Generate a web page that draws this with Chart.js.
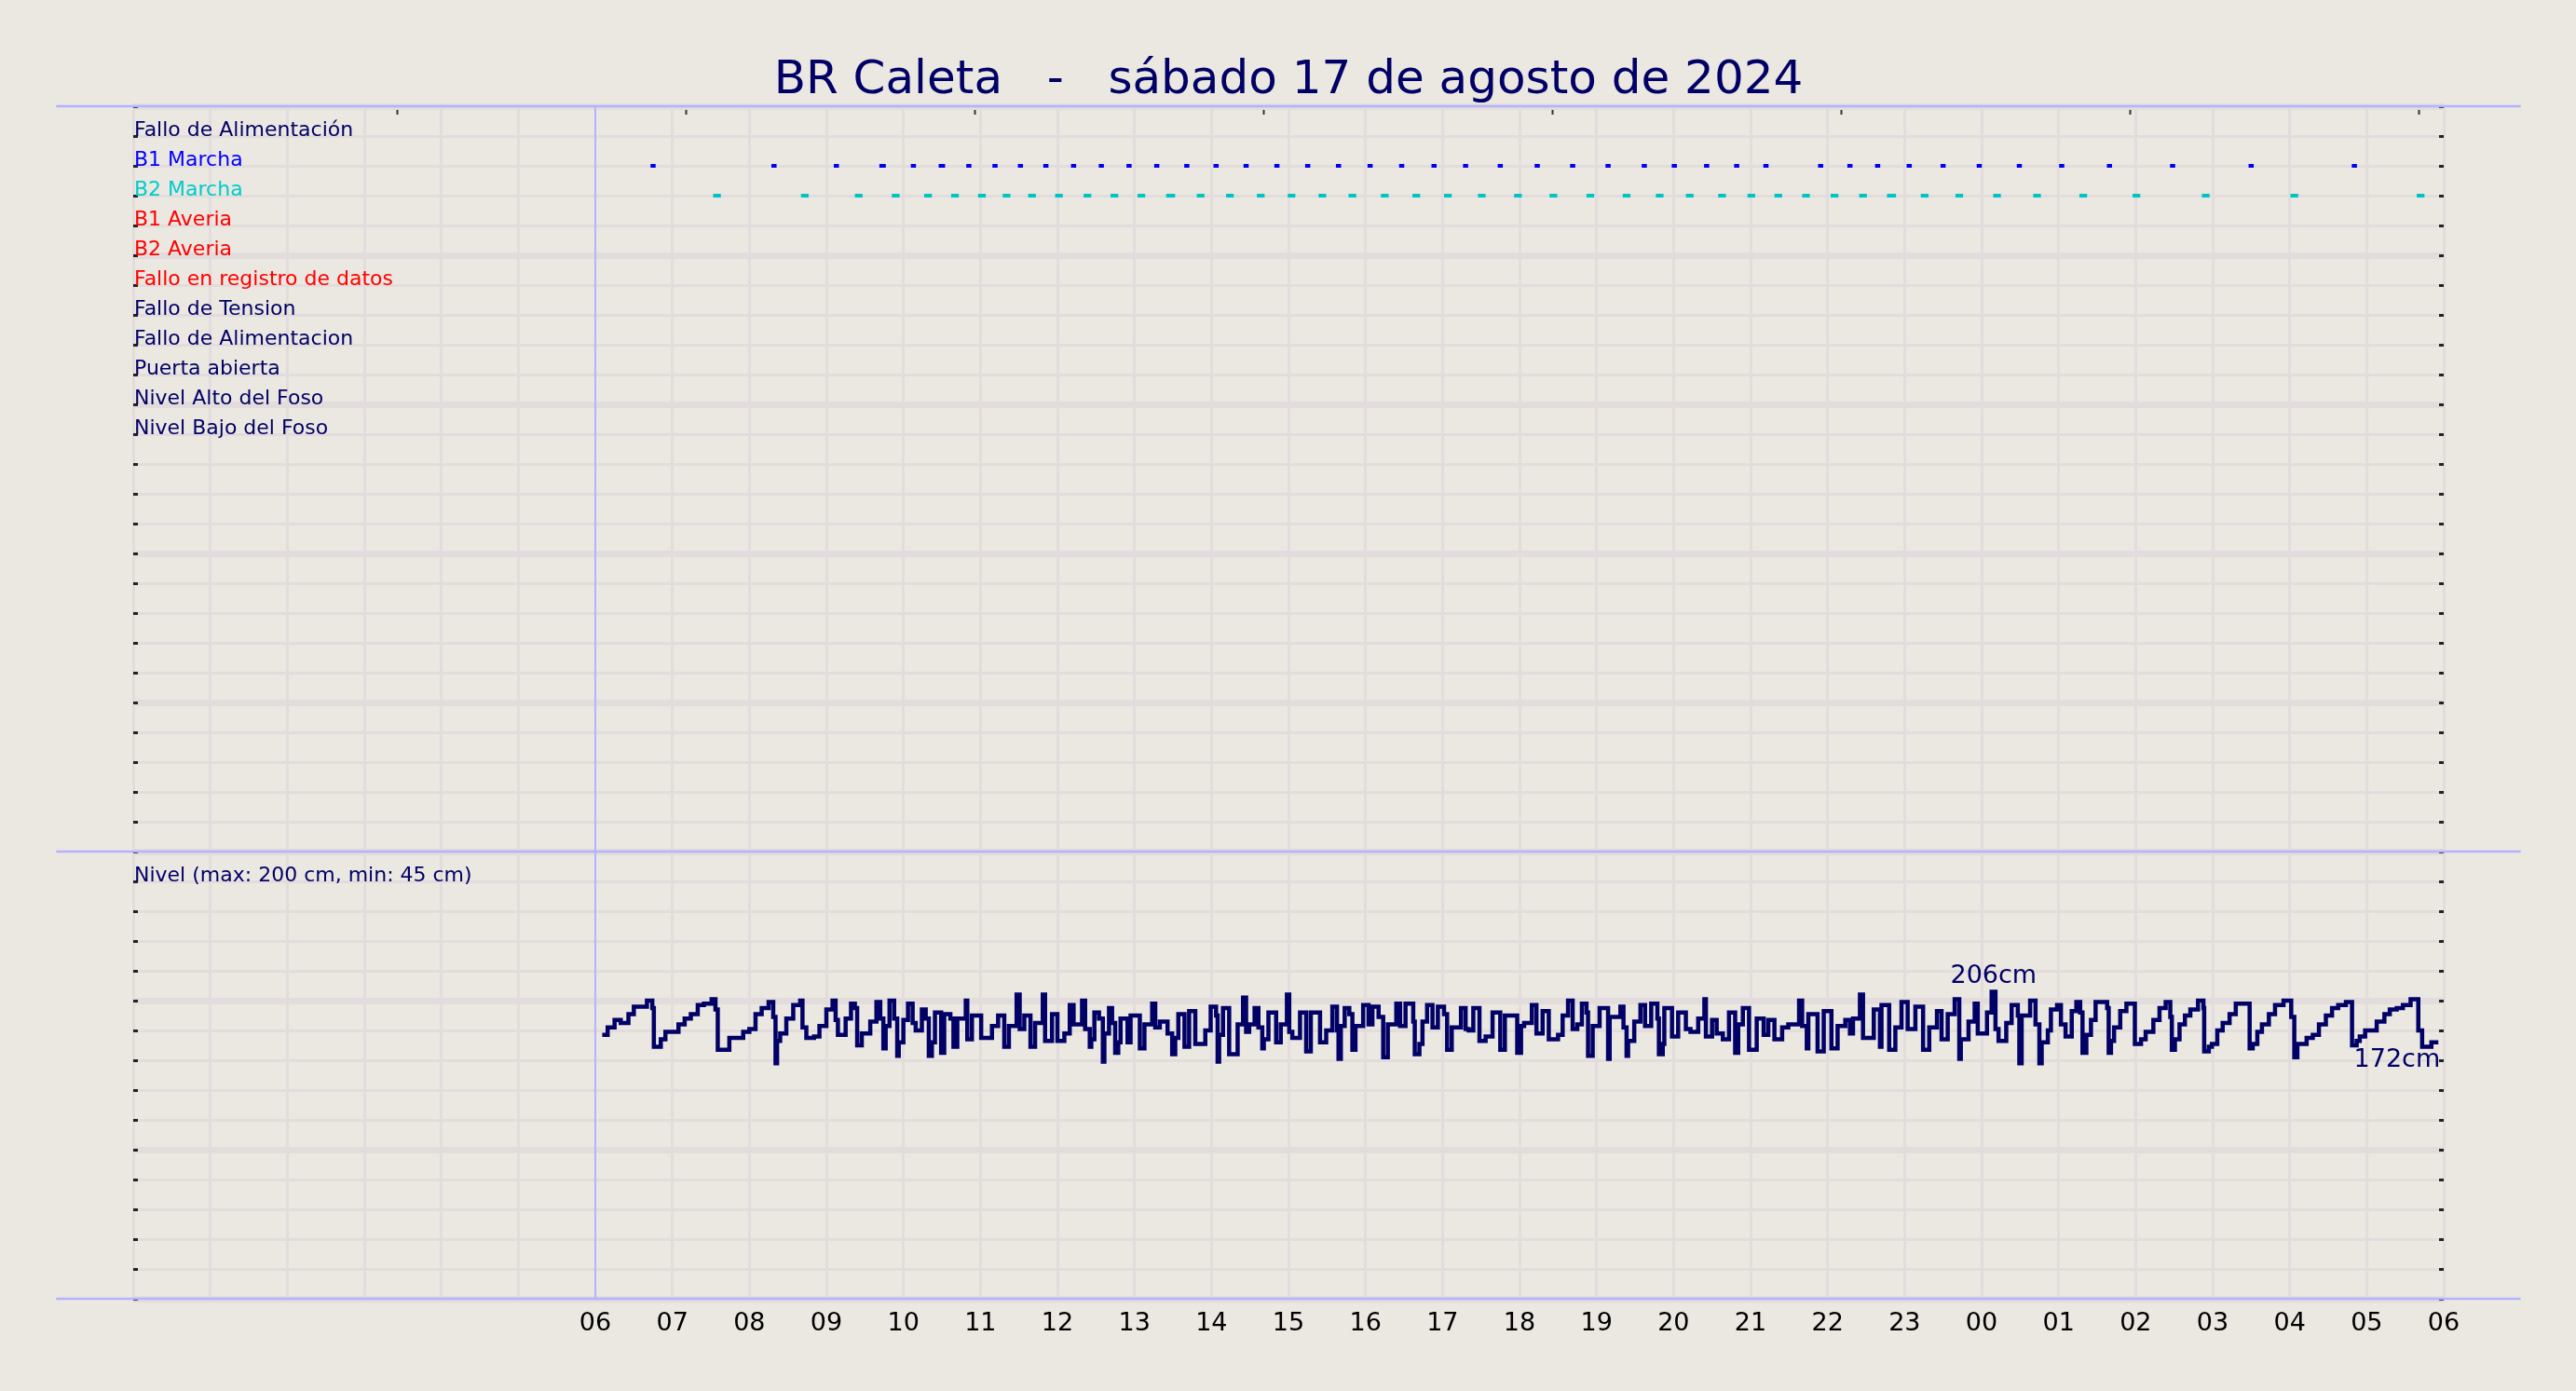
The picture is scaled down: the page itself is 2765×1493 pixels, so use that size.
<!DOCTYPE html>
<html>
<head>
<meta charset="utf-8">
<title>BR Caleta</title>
<script src="https://cdn.jsdelivr.net/npm/chart.js@4.4.1/dist/chart.umd.min.js"></script>
<style>
    html, body { margin: 0; padding: 0; background: #EBE7E1; }
    #contenedor { width: 2765px; height: 1493px; }
</style>
</head>
<body>
<div id="contenedor"><canvas id="chartNivel"></canvas></div>
<script>
// textos
const titulo = 'BR Caleta   -   sábado 17 de agosto de 2024';
const filas = ['Fallo de Alimentación', 'B1 Marcha', 'B2 Marcha', 'B1 Averia', 'B2 Averia',
    'Fallo en registro de datos', 'Fallo de Tension', 'Fallo de Alimentacion', 'Puerta abierta',
    'Nivel Alto del Foso', 'Nivel Bajo del Foso'];
const coloresFilas = ['#000066', '#0000FF', '#00CCCC', '#FF0000', '#FF0000',
    '#FF0000', '#000066', '#000066', '#000066', '#000066', '#000066'];
const etiquetaNivel = 'Nivel (max: 200 cm, min: 45 cm)';

// eje x: horas desde las 00 del sabado, etiquetas desde las 06
const horasEtiquetas = ['06', '07', '08', '09', '10', '11', '12', '13', '14', '15', '16', '17', '18',
    '19', '20', '21', '22', '23', '00', '01', '02', '03', '04', '05', '06'];
const ticksSuperiores = [3.43, 7.18, 10.93, 14.68, 18.43, 22.18, 25.93, 29.68];

// marcha de bombas (hora del arranque, minutos en marcha)
const b1Horas = [6.75, 8.32, 9.13, 9.73, 10.13, 10.50, 10.85, 11.19, 11.52, 11.85, 12.21, 12.57,
    12.93, 13.29, 13.68, 14.06, 14.45, 14.85, 15.25, 15.65, 16.06, 16.47, 16.89, 17.30, 17.75,
    18.23, 18.69, 19.15, 19.62, 20.01, 20.43, 20.82, 21.20, 21.91, 22.29, 22.65, 23.06, 23.50,
    23.97, 24.49, 25.04, 25.66, 26.48, 27.50, 28.84];
const b1Minutos = [4, 4, 4, 5, 4, 5, 4, 4, 4, 4, 4, 4, 4, 4, 4, 4, 4, 4, 4, 4, 4, 4, 4, 4, 4,
    4, 4, 4, 4, 4, 4, 4, 4, 4, 4, 4, 4, 4, 4, 4, 4, 4, 4, 4, 4];
const b2Horas = [7.58, 8.72, 9.42, 9.90, 10.32, 10.67, 11.02, 11.34, 11.67, 12.02, 12.39, 12.74,
    13.09, 13.47, 13.86, 14.24, 14.64, 15.04, 15.44, 15.83, 16.25, 16.66, 17.07, 17.51, 17.98,
    18.44, 18.92, 19.39, 19.82, 20.21, 20.63, 21.01, 21.36, 21.72, 22.09, 22.46, 22.83, 23.26,
    23.71, 24.20, 24.72, 25.32, 26.01, 26.91, 28.06, 29.70];
const b2Minutos = [6, 6, 6, 6, 6, 6, 6, 6, 6, 6, 6, 6, 6, 7, 6, 6, 6, 6, 6, 6, 6, 6, 6, 6, 6,
    6, 6, 6, 6, 6, 6, 6, 6, 6, 6, 6, 7, 6, 6, 6, 6, 6, 6, 6, 6, 6];

// nivel del foso (hora del cambio, cm)
const nivelHoras = [6.09, 6.16, 6.25, 6.33, 6.43, 6.50, 6.67, 6.74, 6.76, 6.85, 6.91, 7.08, 7.16,
    7.24, 7.33, 7.41, 7.51, 7.56, 7.59, 7.74, 7.92, 8.00, 8.08, 8.16, 8.25, 8.31, 8.34, 8.36, 8.40,
    8.48, 8.57, 8.66, 8.69, 8.74, 8.84, 8.91, 9.00, 9.08, 9.12, 9.15, 9.25, 9.32, 9.37, 9.40, 9.46,
    9.57, 9.65, 9.70, 9.74, 9.77, 9.82, 9.88, 9.92, 9.94, 10.00, 10.06, 10.12, 10.16, 10.24, 10.29,
    10.33, 10.37, 10.41, 10.49, 10.53, 10.61, 10.65, 10.70, 10.81, 10.83, 10.89, 11.01, 11.15, 11.23,
    11.31, 11.37, 11.47, 11.51, 11.57, 11.65, 11.71, 11.81, 11.84, 11.93,
    12.00, 12.09, 12.16, 12.21, 12.32, 12.36, 12.42, 12.44, 12.48, 12.54, 12.59, 12.61, 12.67, 12.71,
    12.75, 12.79, 12.82, 12.91, 12.95, 13.07, 13.13, 13.23, 13.27, 13.33, 13.43, 13.49, 13.53, 13.57,
    13.65, 13.71, 13.79, 13.92, 13.99, 14.06, 14.08, 14.10, 14.15, 14.23, 14.34, 14.41, 14.45, 14.49,
    14.56, 14.61, 14.66, 14.68, 14.74, 14.84, 14.90, 14.98, 15.01, 15.05, 15.15, 15.23, 15.29, 15.41,
    15.49, 15.57, 15.63, 15.65, 15.68, 15.73, 15.79, 15.83, 15.87, 15.97, 16.04, 16.09, 16.17, 16.23,
    16.29, 16.40, 16.45, 16.52, 16.62, 16.64, 16.70, 16.74, 16.80, 16.87, 16.94, 17.02, 17.06, 17.12,
    17.24, 17.30, 17.34, 17.40, 17.48, 17.56, 17.65, 17.75, 17.81, 17.97,
    18.02, 18.06, 18.16, 18.22, 18.30, 18.38, 18.50, 18.56, 18.63, 18.69, 18.75, 18.81, 18.87, 18.89,
    18.95, 19.04, 19.15, 19.17, 19.31, 19.35, 19.39, 19.41, 19.49, 19.57, 19.63, 19.71, 19.79, 19.81,
    19.86, 19.88, 19.98, 20.06, 20.16, 20.22, 20.32, 20.40, 20.42, 20.50, 20.56, 20.64, 20.72, 20.80,
    20.84, 20.90, 20.98, 21.08, 21.17, 21.23, 21.31, 21.41, 21.49, 21.63, 21.67, 21.73, 21.75, 21.87,
    21.95, 22.05, 22.13, 22.23, 22.29, 22.33, 22.42, 22.46, 22.60, 22.68, 22.70, 22.80, 22.88, 22.96,
    23.04, 23.14, 23.24, 23.32, 23.42, 23.48, 23.56, 23.65, 23.71, 23.73, 23.83, 23.91, 23.95,
    24.07, 24.13, 24.18, 24.22, 24.32, 24.39, 24.47, 24.49, 24.52, 24.63, 24.70, 24.75, 24.78, 24.86,
    24.90, 24.98, 25.03, 25.09, 25.17, 25.23, 25.28, 25.31, 25.36, 25.42, 25.48, 25.63, 25.65, 25.68,
    25.72, 25.80, 25.88, 25.99, 26.07, 26.13, 26.23, 26.31, 26.39, 26.45, 26.47, 26.51, 26.57, 26.64,
    26.71, 26.81, 26.88, 26.89, 26.95, 26.99, 27.06, 27.13, 27.22, 27.30, 27.48, 27.52, 27.58, 27.64,
    27.73, 27.81, 27.92, 28.02, 28.06, 28.10, 28.22, 28.30, 28.38, 28.47, 28.55, 28.63, 28.73, 28.81,
    28.87, 28.91, 28.98, 29.13, 29.23, 29.30, 29.39, 29.47, 29.57, 29.67, 29.72, 29.84, 29.93];
const nivelCm = [177, 182, 187, 185, 191, 196, 200, 195, 169, 174, 179, 184, 188,
    191, 197, 198, 201, 194, 167, 175, 179, 181, 191, 195, 199, 189, 158, 173, 178,
    188, 197, 200, 182, 175, 176, 183, 194, 200, 187, 177, 188, 198, 195, 170, 178,
    186, 199, 188, 168, 183, 200, 188, 163, 172, 187, 198, 185, 180, 194, 188,
    163, 172, 192, 165, 191, 188, 169, 188, 200, 174, 190, 175, 183, 190,
    169, 183, 204, 181, 190, 169, 185, 204, 173, 191,
    173, 178, 197, 184, 200, 181, 169, 174, 192, 188, 159, 178, 195, 185,
    165, 172, 188, 172, 190, 168, 184, 198, 182, 186, 178, 164, 175, 191,
    169, 193, 171, 180, 196, 190, 159, 177, 195, 164, 184, 202, 179, 184,
    195, 182, 168, 174, 192, 172, 184, 204, 179, 175, 192, 166, 192, 172,
    180, 196, 180, 161, 183, 195, 191, 167, 183, 197, 184, 196, 189, 162,
    184, 198, 183, 198, 186, 164, 171, 186, 197, 182, 196, 191, 167, 182,
    195, 181, 180, 195, 173, 176, 192, 167, 190, 165,
    183, 185, 197, 178, 193, 174, 177, 190, 200, 181, 184, 198, 192, 163,
    183, 195, 161, 189, 196, 182, 163, 173, 186, 197, 183, 198, 188, 164,
    171, 195, 176, 192, 181, 179, 188, 201, 176, 187, 178, 174, 192, 165,
    184, 195, 167, 188, 177, 187, 174, 182, 184, 200, 183, 168, 191, 166,
    193, 168, 183, 187, 178, 188, 204, 175, 194, 169, 197, 167, 182, 199,
    181, 196, 167, 182, 193, 174, 191, 201, 161, 174, 186, 198, 178,
    192, 206, 181, 173, 185, 197, 190, 158, 190, 200, 184, 158, 172, 180,
    194, 197, 184, 176, 193, 199, 192, 165, 177, 187, 199, 195, 165, 173,
    182, 193, 198, 171, 174, 179, 187, 195, 199, 189, 167, 174, 184, 190,
    194, 200, 195, 166, 169, 171, 180, 185, 191, 198, 168, 171, 179, 184,
    191, 197, 200, 189, 162, 171, 175, 177, 184, 190, 195, 197, 199, 170,
    173, 176, 180, 186, 191, 194, 195, 197, 201, 180, 169, 172, 172];

const azulOscuro = '#000066';
const gris = '#E2DDDC';
const lavanda = '#B3B3FF';
const horaInicio = 6;

Chart.defaults.font.family = '"DejaVu Sans", sans-serif';

const tramos = (horas, minutos, fila) => horas.flatMap((h, i) => {
    const d = minutos[i] / 60 / 2;
    return [{ x: h - d, y: fila }, { x: h + d, y: fila }, { x: h + d, y: null }];
});

// lineas del marco: horizontales que salen una hora por cada lado y la vertical del inicio
const marco = {
    id: 'marco',
    beforeDatasetsDraw(chart) {
        const { ctx, scales: { x, yFilas, yNivel } } = chart;
        const x0 = x.getPixelForValue(-1);
        const x1 = x.getPixelForValue(31);
        const arriba = yFilas.getPixelForValue(0);
        const abajo = yNivel.getPixelForValue(0);
        ctx.save();
        ctx.strokeStyle = lavanda;
        ctx.lineWidth = 2.5;
        [arriba, yFilas.getPixelForValue(25), abajo].forEach(y => {
            ctx.beginPath();
            ctx.moveTo(x0, y);
            ctx.lineTo(x1, y);
            ctx.stroke();
        });
        const xi = x.getPixelForValue(horaInicio);
        ctx.lineWidth = 2;
        ctx.beginPath();
        ctx.moveTo(xi, arriba);
        ctx.lineTo(xi, abajo);
        ctx.stroke();
        ctx.restore();
    }
};

const extremos = {
    id: 'extremos',
    afterDatasetsDraw(chart) {
        const { ctx, scales: { x, yNivel } } = chart;
        const iMax = nivelCm.indexOf(Math.max(...nivelCm));
        const iUlt = nivelCm.length - 1;
        ctx.save();
        ctx.fillStyle = azulOscuro;
        ctx.font = '27px "DejaVu Sans"';
        const xm = (x.getPixelForValue(nivelHoras[iMax]) + x.getPixelForValue(nivelHoras[iMax + 1])) / 2;
        ctx.textAlign = 'center';
        ctx.textBaseline = 'bottom';
        ctx.fillText(nivelCm[iMax] + 'cm', xm, yNivel.getPixelForValue(nivelCm[iMax]) - 3);
        ctx.textAlign = 'right';
        ctx.textBaseline = 'top';
        ctx.fillText(nivelCm[iUlt] + 'cm', x.getPixelForValue(nivelHoras[iUlt]) + 2, yNivel.getPixelForValue(nivelCm[iUlt]) + 6);
        ctx.restore();
    }
};

const ejeDerecho = (stackWeight, min, max, step, reverse) => ({
    type: 'linear', position: 'right', stack: 'der', stackWeight, min, max, reverse,
    ticks: { display: false, stepSize: step },
    grid: { drawOnChartArea: false, tickLength: -5, tickColor: '#222', tickWidth: 3 },
    border: { display: false },
    afterFit: s => { s.width = 0; }
});

const canvas = document.getElementById('chartNivel');
const ctx = canvas.getContext('2d');

const chartNivel = new Chart(ctx, {
    type: 'line',
    data: {
        datasets: [{
            label: 'Nivel',
            data: nivelHoras.map((h, i) => ({ x: h, y: nivelCm[i] })),
            xAxisID: 'x',
            yAxisID: 'yNivel',
            stepped: true,
            borderColor: azulOscuro,
            borderWidth: 4.5,
            pointRadius: 0,
            fill: false
        }, {
            label: 'B1 Marcha',
            data: tramos(b1Horas, b1Minutos, 2),
            xAxisID: 'x',
            yAxisID: 'yFilas',
            borderColor: '#0000EE',
            borderWidth: 4,
            borderCapStyle: 'butt',
            pointRadius: 0,
            spanGaps: false
        }, {
            label: 'B2 Marcha',
            data: tramos(b2Horas, b2Minutos, 3),
            xAxisID: 'x',
            yAxisID: 'yFilas',
            borderColor: '#00C4C4',
            borderWidth: 4,
            borderCapStyle: 'butt',
            pointRadius: 0,
            spanGaps: false
        }]
    },
    options: {
        responsive: true,
        maintainAspectRatio: false,
        animation: false,
        layout: { padding: { left: 143, right: 142, top: 0, bottom: 0 } },
        plugins: {
            legend: { display: false },
            tooltip: { enabled: false },
            title: {
                display: true,
                text: titulo,
                color: azulOscuro,
                font: { size: 50, weight: 'normal', lineHeight: 1.08 },
                padding: { top: 60, bottom: 0 }
            }
        },
        scales: {
            x: {
                type: 'linear', position: 'bottom', min: 0, max: 30,
                ticks: {
                    stepSize: 1, autoSkip: false, maxRotation: 0, color: '#000',
                    font: { size: 27 }, padding: 11,
                    callback: v => v >= horaInicio ? horasEtiquetas[v - horaInicio] : ''
                },
                grid: {
                    drawTicks: false,
                    color: c => c.tick && c.tick.value === horaInicio ? 'rgba(0,0,0,0)' : gris,
                    lineWidth: 3
                },
                border: { display: false },
                afterFit: s => { s.height = 99; }
            },
            xArriba: {
                type: 'linear', position: 'top', min: 0, max: 30,
                afterBuildTicks: s => { s.ticks = ticksSuperiores.map(v => ({ value: v })); },
                ticks: { display: false },
                grid: { drawOnChartArea: false, tickLength: -9, tickColor: '#333', tickWidth: 2 },
                border: { display: false },
                afterFit: s => { s.height = 0; }
            },
            yNivel: {
                type: 'linear', position: 'left', stack: 'izq', stackWeight: 15, min: 0, max: 300,
                ticks: {
                    stepSize: 20, autoSkip: false, mirror: true, padding: 1, labelOffset: -6,
                    color: azulOscuro, font: { size: 22 },
                    callback: v => v === 280 ? etiquetaNivel : ''
                },
                grid: {
                    color: gris,
                    lineWidth: c => c.tick && c.tick.value % 100 === 0 ? 7 : 3,
                    tickLength: -5, tickColor: '#222', tickWidth: 3
                },
                border: { display: false },
                afterFit: s => { s.width = 0; }
            },
            yFilas: {
                type: 'linear', position: 'left', stack: 'izq', stackWeight: 25, min: 0, max: 25, reverse: true,
                ticks: {
                    stepSize: 1, autoSkip: false, mirror: true, padding: 1, labelOffset: -6,
                    font: { size: 22 },
                    color: c => coloresFilas[c.tick.value - 1] || azulOscuro,
                    callback: v => filas[v - 1] || ''
                },
                grid: {
                    color: gris,
                    lineWidth: c => c.tick && c.tick.value % 5 === 0 ? 7 : 3,
                    tickLength: -5, tickColor: '#222', tickWidth: 3
                },
                border: { display: false },
                afterFit: s => { s.width = 0; }
            },
            yFilasDer: ejeDerecho(25, 0, 25, 1, true),
            yNivelDer: ejeDerecho(15, 0, 300, 20, false)
        }
    },
    plugins: [marco, extremos]
});
</script>
</body>
</html>
